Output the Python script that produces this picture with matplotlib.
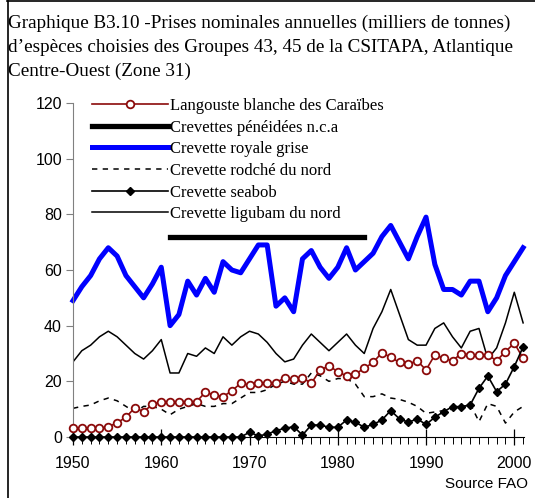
import matplotlib
matplotlib.use("Agg")
import matplotlib.pyplot as plt
from matplotlib.lines import Line2D
import numpy as np

years = np.arange(1950, 2002)

langouste = [3.1, 3.1, 3.1, 3.1, 3.7, 5.1, 7.1, 10.5, 9.1, 11.7,
             12.7, 12.7, 12.7, 12.7, 12.7, 16.1, 15.1, 14.5, 16.6, 19.3,
             18.7, 19.3, 19.3, 19.5, 21.3, 20.7, 21.3, 19.3, 24.1, 25.5,
             23.5, 21.9, 22.6, 24.7, 26.8, 30.3, 28.6, 26.8, 26.2, 27.4,
             24.1, 29.5, 28.3, 27.4, 30.0, 29.5, 29.5, 29.5, 27.4, 30.7,
             33.7, 28.3]

peneidees_years = np.arange(1961, 1984)
peneidees = [72] * len(peneidees_years)

royale_grise = [49, 54, 58, 64, 68, 65, 58, 54, 50, 55,
                61, 40, 44, 56, 51, 57, 52, 63, 60, 59,
                64, 69, 69, 47, 50, 45, 64, 67, 61, 57,
                61, 68, 60, 63, 66, 72, 76, 70, 64, 72,
                79, 62, 53, 53, 51, 56, 56, 45, 50, 58,
                63, 68]

rodche = [10.3, 11, 11.5, 13, 14, 13, 11, 9, 11, 11,
          10, 8, 10, 11, 12, 11, 11, 12, 12, 14,
          16, 16, 17, 19, 20, 19, 19, 23, 22, 20,
          21, 21, 19, 14.5, 14.5, 15.5, 14, 13.5, 12.5, 11,
          8.5, 9, 9.5, 10, 10.5, 12, 5.5, 12, 11, 5,
          9, 11]

seabob = [0] * 20 + [1.7, 0.4, 1.0, 2.3, 3.1, 3.7, 0.7, 4.3, 4.3, 3.5,
                     3.5, 6.1, 5.3, 3.5, 4.5, 6.1, 9.5, 6.5, 5.3, 6.5,
                     4.5, 7.1, 9.1, 10.9, 10.9, 11.5, 17.5, 21.9, 16.3, 19.0,
                     25.3, 32.4]

ligubam = [27, 31, 33, 36, 38, 36, 33, 30, 28, 31,
           35, 23, 23, 30, 29, 32, 30, 36, 33, 36,
           38, 37, 34, 30, 27, 28, 33, 37, 34, 31,
           34, 37, 33, 30, 39, 45, 53, 44, 35, 33,
           33, 39, 41, 36, 32, 38, 39, 28, 32, 41,
           52, 41]

labels = ["Langouste blanche des Caraïbes", "Crevettes pénéidées n.c.a",
          "Crevette royale grise", "Crevette rodché du nord",
          "Crevette seabob", "Crevette ligubam du nord"]

title = ("Graphique B3.10 -Prises nominales annuelles (milliers de tonnes)\n"
         "d\u2019espèces choisies des Groupes 43, 45 de la CSITAPA, Atlantique\n"
         "Centre-Ouest (Zone 31)")

W, H = 535, 498
fig = plt.figure(figsize=(W / 100, H / 100), dpi=100)
ax = fig.add_axes([73 / W, 61 / H, 451 / W, 334 / H])

red = "#8B0A0A"
ax.plot(years, langouste, color=red, lw=1.2, marker="o", ms=5.5, mfc="white",
        mec=red, mew=1.3, clip_on=False, label=labels[0], zorder=3)
ax.plot(peneidees_years, peneidees, color="black", lw=3.8,
        solid_capstyle="projecting", label=labels[1])
ax.plot(years, royale_grise, color="#0000FF", lw=3.6, solid_joinstyle="round",
        clip_on=False, label=labels[2])
ax.plot(years, rodche, color="black", lw=1.1, dashes=(3.5, 3.5),
        label=labels[3])
ax.plot(years, seabob, color="black", lw=1.2, marker="D", ms=4.2,
        clip_on=False, label=labels[4], zorder=4)
ax.plot(years, ligubam, color="black", lw=1.1, label=labels[5])

ax.set_xlim(1950, 2001.1)
ax.set_ylim(0, 120)
ax.set_yticks(range(0, 121, 20))
ax.set_xticks(range(1950, 2001, 10))
ax.set_xticks(years, minor=True)
for s in ["top", "right"]:
    ax.spines[s].set_visible(False)
ax.spines["left"].set_color("#808080")
ax.spines["bottom"].set_color("black")
ax.tick_params(axis="y", direction="out", length=5, width=0.8, color="#808080",
               pad=3, labelsize=11.5, labelfontfamily="Liberation Sans")
ax.tick_params(axis="x", which="major", direction="inout", length=11, width=0.9,
               pad=8, labelsize=11.5, labelfontfamily="Liberation Sans")
ax.tick_params(axis="x", which="minor", direction="out", length=5, width=0.7)

leg = ax.legend(loc="upper left", bbox_to_anchor=(92 / W, 1 - 98 / H),
                bbox_transform=fig.transFigure, frameon=False,
                prop={"family": "Liberation Serif", "size": 12},
                handlelength=4.55, handletextpad=0.1, labelspacing=0.34,
                borderpad=0, borderaxespad=0)

fig.text(8 / W, 1 - 14.5 / H, title, ha="left", va="top", fontsize=13.8,
         family="Liberation Serif", linespacing=1.52)
fig.text(528 / W, 1 - 484 / H, "Source FAO", ha="right", va="center",
         fontsize=11, family="Liberation Sans")

# cadre
fig.add_artist(Line2D([7 / W, 1], [1 - 1.5 / H, 1 - 1.5 / H], color="black", lw=1.2))
fig.add_artist(Line2D([7.5 / W, 7.5 / W], [0, 1 - 1.5 / H], color="black", lw=1.2))

fig.savefig("out.png", dpi=100)
